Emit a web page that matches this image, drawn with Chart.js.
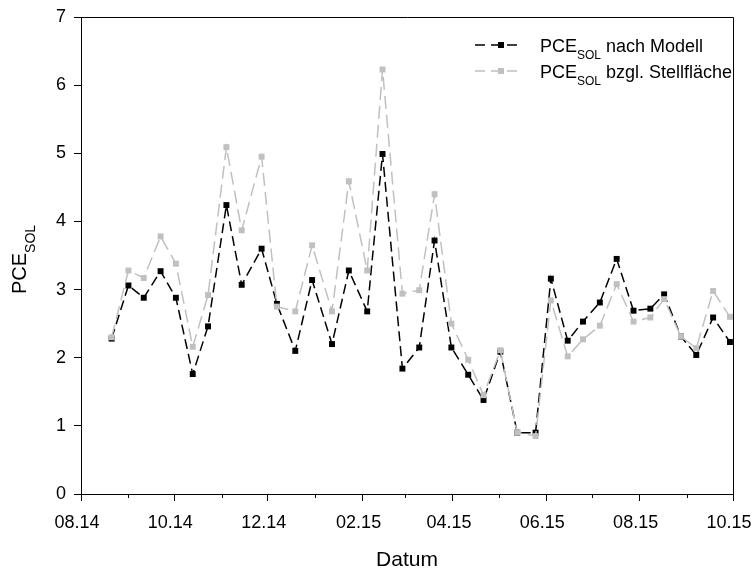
<!DOCTYPE html>
<html>
<head>
<meta charset="utf-8">
<script src="https://cdn.jsdelivr.net/npm/chart.js@4"></script>
<style>
html, body { margin: 0; padding: 0; background: #fff; }
</style>
</head>
<body>
<canvas id="pceChart" width="752" height="574"></canvas>
<script>
// Messtage
var messDaten = ["2014-08-21", "2014-09-01", "2014-09-11", "2014-09-22", "2014-10-02", "2014-10-13",
    "2014-10-23", "2014-11-04", "2014-11-14", "2014-11-27", "2014-12-07", "2014-12-19", "2014-12-30",
    "2015-01-12", "2015-01-23", "2015-02-04", "2015-02-14", "2015-02-27", "2015-03-10", "2015-03-20",
    "2015-03-31", "2015-04-11", "2015-04-21", "2015-05-02", "2015-05-13", "2015-05-25", "2015-06-04",
    "2015-06-15", "2015-06-25", "2015-07-06", "2015-07-17", "2015-07-28", "2015-08-08", "2015-08-17",
    "2015-08-28", "2015-09-07", "2015-09-18", "2015-09-29"];

var pceModell = [2.28, 3.06, 2.88, 3.27, 2.88, 1.76, 2.46, 4.24, 3.07, 3.60, 2.79, 2.10, 3.14,
    2.20, 3.28, 2.68, 4.99, 1.84, 2.15, 3.72, 2.15, 1.75, 1.38, 2.09, 0.90, 0.90, 3.16,
    2.25, 2.53, 2.81, 3.45, 2.69, 2.72, 2.93, 2.31, 2.04, 2.59, 2.23];

var pceStellflaeche = [2.30, 3.28, 3.17, 3.78, 3.38, 2.16, 2.92, 5.09, 3.87, 4.95, 2.75, 2.68, 3.65,
    2.68, 4.59, 3.28, 6.23, 2.94, 2.99, 4.40, 2.50, 1.97, 1.45, 2.11, 0.90, 0.85, 2.84,
    2.02, 2.27, 2.47, 3.08, 2.53, 2.59, 2.86, 2.31, 2.14, 2.98, 2.60];

// Monatsanfänge fuer die Achse (gerade Indizes = beschriftet)
var monate = ["2014-08-01", "2014-09-01", "2014-10-01", "2014-11-01", "2014-12-01", "2015-01-01",
    "2015-02-01", "2015-03-01", "2015-04-01", "2015-05-01", "2015-06-01", "2015-07-01",
    "2015-08-01", "2015-09-01", "2015-10-01"];
var yTicks = [0, 1, 2, 3, 4, 5, 6, 7];

var start = Date.UTC(2014, 7, 1);
function tagNr(s) {
    var p = s.split("-");
    return (Date.UTC(+p[0], +p[1] - 1, +p[2]) - start) / 86400000;
}
function monatLabel(s) {
    var p = s.split("-");
    return p[1] + "." + p[0].slice(2);
}

var hauptMonate = monate.filter(function (m, i) { return i % 2 === 0; });
var nebenMonate = monate.filter(function (m, i) { return i % 2 === 1; });

var schrift = "'Liberation Sans', Arial, sans-serif";

function punkte(werte) {
    return messDaten.map(function (d, i) { return { x: tagNr(d), y: werte[i] }; });
}

function textMitIndex(ctx, x, y, haupt, index, rest, gross, klein) {
    ctx.textAlign = "left";
    ctx.textBaseline = "alphabetic";
    ctx.font = gross + "px " + schrift;
    ctx.fillText(haupt, x, y);
    x += ctx.measureText(haupt).width;
    ctx.font = klein + "px " + schrift;
    ctx.fillText(index, x, y + 7);
    x += ctx.measureText(index).width;
    if (rest) {
        ctx.font = gross + "px " + schrift;
        ctx.fillText(rest, x, y);
    }
}

var extras = {
    id: "extras",
    afterDraw: function (chart) {
        var ctx = chart.ctx;
        var a = chart.chartArea;
        var xs = chart.scales.x;
        ctx.save();
        // Rahmen oben und rechts
        ctx.strokeStyle = "#000";
        ctx.lineWidth = 1;
        ctx.beginPath();
        ctx.moveTo(a.left, a.top + 0.5);
        ctx.lineTo(a.right + 0.5, a.top + 0.5);
        ctx.lineTo(a.right + 0.5, a.bottom);
        ctx.stroke();
        // kleine Striche fuer ungerade Monate
        nebenMonate.forEach(function (m) {
            var px = Math.round(xs.getPixelForValue(tagNr(m))) + 0.5;
            ctx.beginPath();
            ctx.moveTo(px, a.bottom);
            ctx.lineTo(px, a.bottom + 4);
            ctx.stroke();
        });

        // y-Achsentitel mit Index
        ctx.fillStyle = "#000";
        ctx.font = "20px " + schrift;
        var w1 = ctx.measureText("PCE").width;
        ctx.font = "14px " + schrift;
        var w2 = ctx.measureText("SOL").width;
        ctx.save();
        ctx.translate(26, (a.top + a.bottom) / 2 + 4 + (w1 + w2) / 2);
        ctx.rotate(-Math.PI / 2);
        ctx.textAlign = "left";
        ctx.textBaseline = "alphabetic";
        ctx.font = "20px " + schrift;
        ctx.fillText("PCE", 0, 0);
        ctx.font = "14px " + schrift;
        ctx.fillText("SOL", w1, 9);
        ctx.restore();

        // Legende
        var eintraege = [
            { farbe: "#000", text: " nach Modell" },
            { farbe: "#c0c0c0", text: " bzgl. Stellfl\u00e4che" }
        ];
        eintraege.forEach(function (e, i) {
            var ly = 45 + i * 26;
            ctx.strokeStyle = e.farbe;
            ctx.lineWidth = 1.5;
            ctx.setLineDash([10, 6]);
            ctx.beginPath();
            ctx.moveTo(475, ly);
            ctx.lineTo(521, ly);
            ctx.stroke();
            ctx.setLineDash([]);
            ctx.fillStyle = e.farbe;
            ctx.fillRect(498, ly - 3, 6, 6);
            ctx.fillStyle = "#000";
            textMitIndex(ctx, 540, ly + 7, "PCE", "SOL", e.text, 18, 12);
        });
        ctx.restore();
    }
};

new Chart(document.getElementById("pceChart").getContext("2d"), {
    type: "line",
    data: {
        datasets: [{
            label: "PCE_SOL nach Modell",
            data: punkte(pceModell),
            borderColor: "#000",
            backgroundColor: "#000",
            borderWidth: 1.5,
            borderDash: [10, 5],
            pointStyle: "rect",
            pointRadius: 4.2,
            pointBorderWidth: 0,
            pointBackgroundColor: "#000",
            fill: false,
            tension: 0,
            order: 1
        }, {
            label: "PCE_SOL bzgl. Stellfläche",
            data: punkte(pceStellflaeche),
            borderColor: "#c0c0c0",
            backgroundColor: "#c0c0c0",
            borderWidth: 1.5,
            borderDash: [13, 6],
            pointStyle: "rect",
            pointRadius: 4.2,
            pointBorderWidth: 0,
            pointBackgroundColor: "#c0c0c0",
            fill: false,
            tension: 0,
            order: 0
        }]
    },
    options: {
        responsive: false,
        animation: false,
        layout: { padding: { top: 17, right: 19, left: 0, bottom: 0 } },
        plugins: {
            legend: { display: false },
            tooltip: { enabled: false }
        },
        scales: {
            x: {
                type: "linear",
                min: tagNr(monate[0]),
                max: tagNr(monate[monate.length - 1]),
                afterBuildTicks: function (s) {
                    s.ticks = hauptMonate.map(function (m) { return { value: tagNr(m) }; });
                },
                afterFit: function (s) {
                    s.height = 80;
                    s.paddingLeft = 0;
                    s.paddingRight = 0;
                },
                ticks: {
                    autoSkip: false,
                    maxRotation: 0,
                    padding: 11,
                    labelOffset: -4,
                    color: "#000",
                    font: { family: schrift, size: 18 },
                    callback: function (v) {
                        var m = hauptMonate.filter(function (h) { return tagNr(h) === v; })[0];
                        return m ? monatLabel(m) : "";
                    }
                },
                grid: { drawOnChartArea: false, tickLength: 7, color: "#000" },
                border: { color: "#000", width: 1 },
                title: {
                    display: true,
                    text: "Datum",
                    color: "#000",
                    font: { family: schrift, size: 21 },
                    padding: { top: 0, bottom: 1 }
                }
            },
            y: {
                min: 0,
                max: 7,
                afterBuildTicks: function (s) {
                    s.ticks = yTicks.map(function (v) { return { value: v }; });
                },
                afterFit: function (s) {
                    s.width = 81;
                    s.paddingTop = 0;
                    s.paddingBottom = 0;
                },
                ticks: {
                    padding: 8,
                    color: "#000",
                    font: { family: schrift, size: 18 }
                },
                grid: { drawOnChartArea: false, tickLength: 7, color: "#000" },
                border: { color: "#000", width: 1 }
            }
        }
    },
    plugins: [extras]
});
</script>
</body>
</html>
